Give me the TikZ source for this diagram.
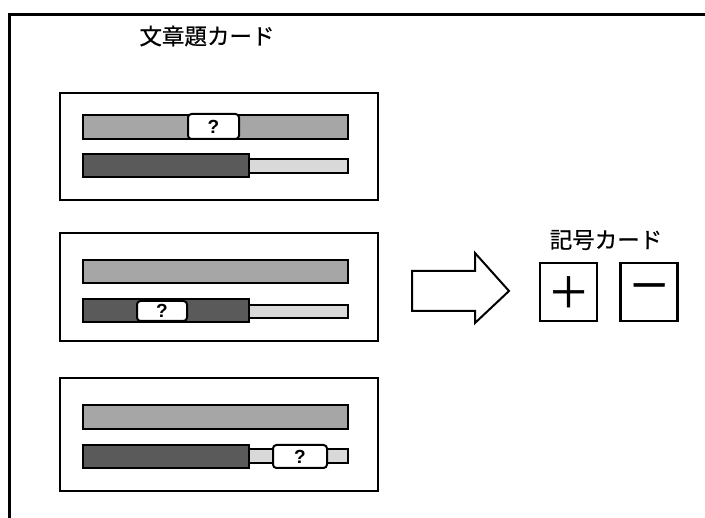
\documentclass[tikz,border=0pt]{standalone}
\usepackage{fontspec}
\newfontfamily\jpfont[FakeBold=0.6]{Noto Sans CJK JP}
\newfontfamily\symfont[FakeBold=1.2]{Noto Sans CJK JP}
\newfontfamily\qfont{Liberation Sans}
\definecolor{barmid}{HTML}{A6A6A6}
\definecolor{bardark}{HTML}{5A5A5A}
\definecolor{barlight}{HTML}{D9D9D9}
\tikzset{
  card/.style={draw, line width=2.9pt},
  bar/.style={draw, line width=2pt},
  qbox/.style={draw, fill=white, line width=2pt, rounded corners=3.5pt},
  qmark/.style={font=\qfont\bfseries\fontsize{19}{19}\selectfont, inner sep=0pt},
  lbl/.style={font=\jpfont\fontsize{22.5}{22.5}\selectfont, inner sep=0pt},
  symcard/.style={draw, line width=2.8pt, minimum width=57pt, minimum height=58pt, inner sep=0pt, font=\symfont\fontsize{42}{42}\selectfont}
}
\begin{document}
\begin{tikzpicture}[x=1pt,y=-1pt]
\useasboundingbox (0,0) rectangle (705,518);
\draw[line width=3pt] (9,519) -- (9,15) -- (706,15);
\node[lbl] (title) at (207,36) {文章題カード};
% card 1
\draw[card] (60,93) rectangle (378,200);
\draw[bar, fill=barmid] (83,115) rectangle (348,139);
\draw[bar, fill=barlight] (249,159) rectangle (348,173);
\draw[bar, fill=bardark] (83,154) rectangle (249,177);
\draw[qbox] (188,114) rectangle (239,139);
\node[qmark] (q1) at (213.5,126.5) {?};
% card 2
\draw[card] (60,233) rectangle (378,341);
\draw[bar, fill=barmid] (83,260) rectangle (348,283);
\draw[bar, fill=barlight] (249,305) rectangle (348,318);
\draw[bar, fill=bardark] (83,299) rectangle (249,322);
\draw[qbox] (137,301) rectangle (187,321);
\node[qmark] (q2) at (162,311) {?};
% card 3
\draw[card] (60,378) rectangle (378,491);
\draw[bar, fill=barmid] (83,405) rectangle (348,429);
\draw[bar, fill=barlight] (249,449) rectangle (348,463);
\draw[bar, fill=bardark] (83,445) rectangle (249,468);
\draw[qbox] (273,445) rectangle (327,468);
\node[qmark] (q3) at (300,456.5) {?};
% arrow
\draw[line width=2pt, fill=white, line join=miter] (412,271) -- (475,271) -- (475,253) -- (509,291) -- (475,323) -- (475,311) -- (412,311) -- cycle;
% symbol cards
\node[lbl] (symtitle) at (606,240) {記号カード};
\node[symcard] (plus) at (568.5,292) {＋};
\node[symcard] (minus) at (649,292) {－};
\end{tikzpicture}
\end{document}
